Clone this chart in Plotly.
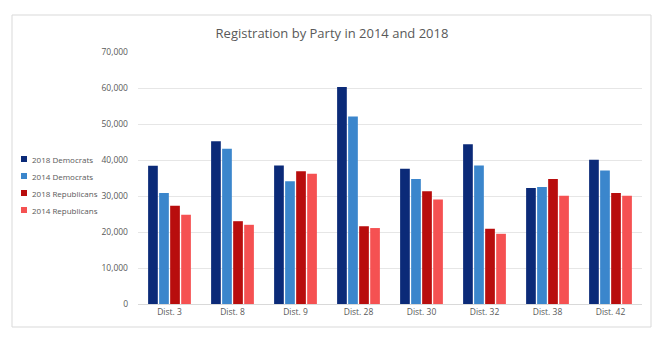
import plotly.graph_objects as go

districts = ["Dist. 3", "Dist. 8", "Dist. 9", "Dist. 28", "Dist. 30", "Dist. 32", "Dist. 38", "Dist. 42"]
dem_2018 = [38400, 45200, 38500, 60300, 37600, 44400, 32200, 40100]
dem_2014 = [30800, 43100, 34100, 52100, 34700, 38500, 32500, 37100]
rep_2018 = [27300, 23000, 36900, 21600, 31300, 20900, 34700, 30800]
rep_2014 = [24800, 22000, 36200, 21100, 29000, 19500, 30100, 30100]
tick_vals = [0, 10000, 20000, 30000, 40000, 50000, 60000, 70000]
tick_text = ["0", "10,000", "20,000", "30,000", "40,000", "50,000", "60,000", "70,000"]

series = [
    ("2018 Democrats", dem_2018, "#0b2a78"),
    ("2014 Democrats", dem_2014, "#3b86cc"),
    ("2018 Republicans", rep_2018, "#b80d0d"),
    ("2014 Republicans", rep_2014, "#f55152"),
]

FONT = "Open Sans, sans-serif"
fig = go.Figure()
for name, vals, color in series:
    fig.add_trace(go.Bar(x=districts, y=vals, name=name, showlegend=False,
                         marker=dict(color=color, line=dict(width=0))))

L, R, T, B = 138, 22, 52, 37
W, H = 664, 341
pw, ph = W - L - R, H - T - B

def px_to_paper_x(px):
    return (px - L) / pw

def px_to_paper_y(py):
    return (H - B - py) / ph

shapes = [dict(type="rect", xref="paper", yref="paper",
               x0=px_to_paper_x(12), x1=px_to_paper_x(651),
               y0=px_to_paper_y(327), y1=px_to_paper_y(15),
               line=dict(color="#d9d9d9", width=1), fillcolor="rgba(0,0,0,0)", layer="below")]
annotations = []
# legend keys (drawn on the left as in the reference)
leg_y0, leg_step = 159, 17
for i, (name, vals, color) in enumerate(series):
    cy = leg_y0 + i * leg_step
    shapes.append(dict(type="rect", xref="paper", yref="paper",
                       x0=px_to_paper_x(21), x1=px_to_paper_x(27),
                       y0=px_to_paper_y(cy + 3), y1=px_to_paper_y(cy - 3),
                       line=dict(width=0), fillcolor=color))
    annotations.append(dict(text=name, xref="paper", yref="paper",
                            x=px_to_paper_x(30), y=px_to_paper_y(cy),
                            xanchor="left", yanchor="middle", showarrow=False,
                            font=dict(size=8, color="#595959", family=FONT)))

fig.update_layout(
    width=W, height=H,
    margin=dict(l=L, r=R, t=T, b=B),
    paper_bgcolor="white", plot_bgcolor="white",
    barmode="group", bargap=0.3, bargroupgap=0.12,
    showlegend=False,
    font=dict(family=FONT, color="#595959", size=9),
    title=dict(text="Registration by Party in 2014 and 2018", x=0.5, xanchor="center",
               xref="container", y=1 - 33 / H, yanchor="middle",
               font=dict(size=13, color="#595959", family=FONT)),
    xaxis=dict(showgrid=False, showline=True, linecolor="#d9d9d9", linewidth=1,
               ticks="", tickfont=dict(size=8.5, color="#595959")),
    yaxis=dict(range=[0, 70000], tickvals=tick_vals, ticktext=tick_text,
               showgrid=True, gridcolor="#e6e6e6", gridwidth=1, zeroline=False,
               showline=False, ticks="", ticklen=0, tickfont=dict(size=8.5, color="#595959")),
    shapes=shapes,
    annotations=annotations,
)
fig.update_yaxes(ticklabelstandoff=9)

fig.write_html("out.html")
